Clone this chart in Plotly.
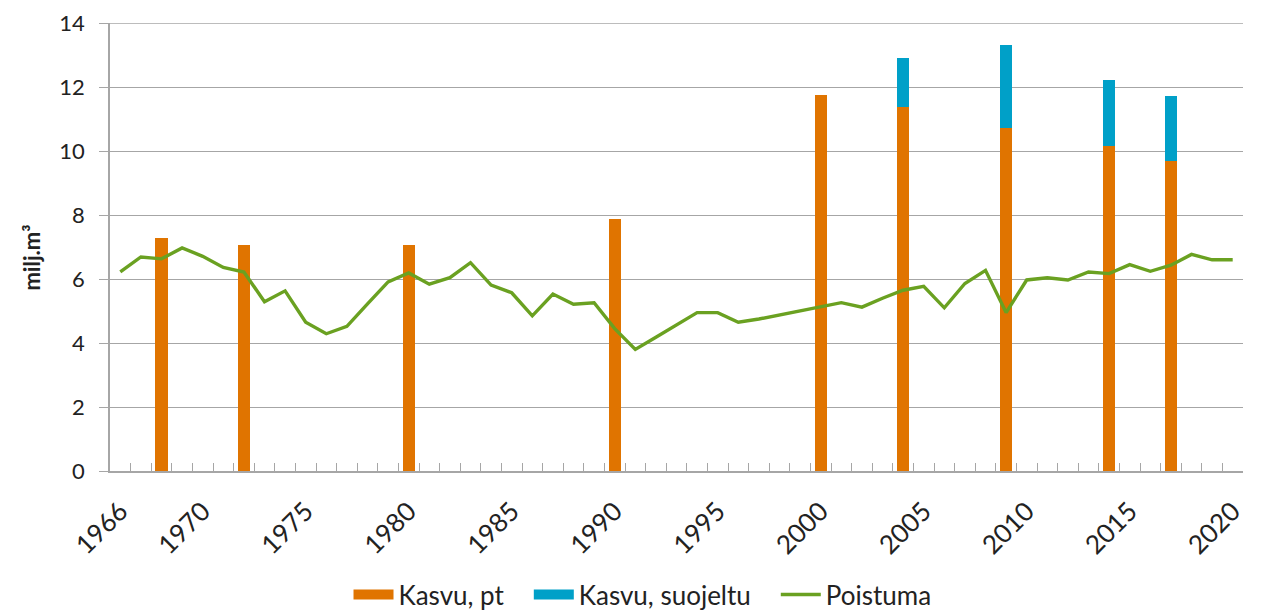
import plotly.graph_objects as go

years = list(range(1966, 2021))

# Kasvu, pt (orange bars) and Kasvu, suojeltu (blue, stacked on top)
kasvu_years = [1968, 1972, 1980, 1990, 2000, 2004, 2009, 2014, 2017]
kasvu_pt = [7.28, 7.05, 7.05, 7.88, 11.74, 11.38, 10.71, 10.15, 9.68]
suojeltu_years = [2004, 2009, 2014, 2017]
kasvu_suojeltu = [1.52, 2.61, 2.06, 2.05]

# Poistuma, one value per year 1966-2020
poistuma = [
    6.22, 6.69, 6.63, 6.97, 6.71, 6.36, 6.22, 5.29, 5.63, 4.65,
    4.29, 4.52, 5.22, 5.91, 6.19, 5.84, 6.04, 6.51, 5.81, 5.57,
    4.85, 5.53, 5.21, 5.26, 4.45, 3.80, 4.18, 4.56, 4.95, 4.95,
    4.65, 4.75, 4.88, 5.00, 5.12, 5.26, 5.12, 5.40, 5.65, 5.77,
    5.10, 5.86, 6.27, 4.95, 5.97, 6.04, 5.97, 6.22, 6.17, 6.45,
    6.24, 6.43, 6.77, 6.60, 6.60,
]

labelled_years = [1966, 1970, 1975, 1980, 1985, 1990, 1995, 2000, 2005, 2010, 2015, 2020]
tick_text = [str(y) if y in labelled_years else "" for y in years]
y_ticks = [0, 2, 4, 6, 8, 10, 12, 14]

ORANGE = "#E07400"
BLUE = "#00A0C8"
GREEN = "#6AA121"
GRID = "#A6A6A6"
FONT = "Lato, Open Sans, sans-serif"
PAD = "\u00a0" * 3

fig = go.Figure()
fig.add_bar(
    x=kasvu_years, y=kasvu_pt, name="Kasvu, pt",
    marker=dict(color=ORANGE, line_width=0), showlegend=False,
)
fig.add_bar(
    x=suojeltu_years, y=kasvu_suojeltu, name="Kasvu, suojeltu",
    marker=dict(color=BLUE, line_width=0), showlegend=False,
)
fig.add_scatter(
    x=years, y=poistuma, mode="lines", name="Poistuma",
    line=dict(color=GREEN, width=3.4), showlegend=False,
)

# legend entries: wide blocks for the bars, a line for Poistuma
for name, color, width in [
    ("Kasvu, pt" + PAD, ORANGE, 16),
    ("Kasvu, suojeltu" + PAD, BLUE, 16),
    ("Poistuma", GREEN, 3.4),
]:
    fig.add_scatter(
        x=[None], y=[None], mode="lines", name=name,
        line=dict(color=color, width=width),
    )

# top gridline (plotly drops the one sitting on the plot edge)
fig.add_hline(y=14, line=dict(color=GRID, width=1.2), layer="below")

# the page body has an 8px margin, so the figure is 8px smaller than the window
fig.update_layout(
    width=1255,
    height=606,
    barmode="stack",
    bargap=0.4,
    plot_bgcolor="white",
    paper_bgcolor="white",
    margin=dict(l=102, r=20, t=15, b=143, autoexpand=False),
    font=dict(family=FONT, size=26, color="#222222"),
    legend=dict(
        orientation="h", x=0.47, xanchor="center",
        y=-0.276, yanchor="middle",
        font=dict(size=26), traceorder="normal", itemwidth=40,
    ),
    hovermode=False,
    annotations=[
        dict(
            text="<b>milj.m³</b>", textangle=-90, showarrow=False,
            xref="paper", yref="paper", x=-0.069, y=0.476,
            xanchor="center", yanchor="middle", font=dict(size=22),
        )
    ],
)
fig.update_xaxes(
    type="category",
    categoryorder="array",
    categoryarray=years,
    tickvals=years,
    ticktext=tick_text,
    tickangle=-45,
    tickson="boundaries",
    ticks="inside",
    ticklen=8,
    tickcolor=GRID,
    tickfont=dict(size=26),
    showgrid=False,
    showline=True,
    linecolor=GRID,
    linewidth=1.5,
    ticklabelstandoff=13,
    range=[-0.5, len(years) - 0.5],
)
fig.update_yaxes(
    range=[0, 14.001],
    tickmode="array",
    tickvals=y_ticks,
    showgrid=True,
    gridcolor=GRID,
    gridwidth=1.2,
    showline=True,
    linecolor=GRID,
    linewidth=1.5,
    ticks="outside",
    ticklen=9,
    tickcolor=GRID,
    tickfont=dict(size=22),
    ticklabelstandoff=10,
    ticklabeloverflow="allow",
    zeroline=False,
)

fig.write_html("out.html")
